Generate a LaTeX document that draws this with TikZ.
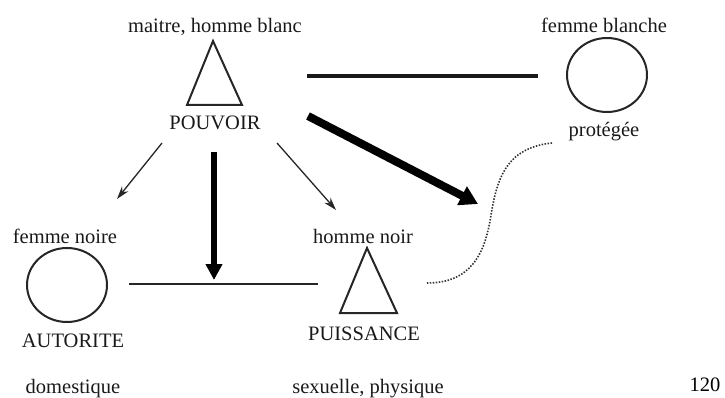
\documentclass[tikz,border=0pt]{standalone}
\usepackage{fontspec}
\setmainfont{Liberation Serif}
\usetikzlibrary{arrows.meta}
\begin{document}
\begin{tikzpicture}[x=1pt,y=-1pt,
  lbl/.style={anchor=base,inner sep=0pt,font=\fontsize{20.5}{24}\selectfont,text=black!90},
  shapeline/.style={draw=black!85,line width=2pt,line join=miter},
  thinarrow/.style={draw=black!85,line width=1.3pt,-{Stealth[length=13pt,width=8pt]}},
  bigarrow/.style={draw=black,line width=8pt,-{Triangle[length=18pt,width=20pt]}},
  vertarrow/.style={draw=black,line width=6pt,-{Triangle[length=16pt,width=16pt]}},
  dotline/.style={draw=black!80,line width=1.6pt,dash pattern=on 1.5pt off 1.5pt}]
\useasboundingbox (0,0) rectangle (725,398);
% labels
\node[lbl] (mh) at (215,33) {maitre, homme blanc};
\node[lbl] (pouv) at (215,130) {POUVOIR};
\node[lbl] (fb) at (604,33) {femme blanche};
\node[lbl] (prot) at (604,137) {protégée};
\node[lbl] (fn) at (65,243) {femme noire};
\node[lbl] (aut) at (73,347) {AUTORITE};
\node[lbl] (dom) at (73,393) {domestique};
\node[lbl] (hn) at (363,243) {homme noir};
\node[lbl] (puis) at (364,340) {PUISSANCE};
\node[lbl] (sex) at (368,393) {sexuelle, physique};
\node[lbl,text=black] (num) at (705,391) {120};
% shapes
\draw[shapeline] (213,41) -- (242,105) -- (187,105) -- cycle;
\draw[shapeline] (367,248) -- (397,313) -- (340,313) -- cycle;
\draw[shapeline] (607,75) ellipse [x radius=40, y radius=37];
\draw[shapeline] (67,285) ellipse [x radius=40, y radius=37];
% connector end points
\coordinate (t1) at (307,76);
\coordinate (t2) at (538,76);
\coordinate (d1) at (308,116);
\coordinate (d2) at (478,204);
\coordinate (l1) at (162,143);
\coordinate (l2) at (117,199);
\coordinate (r1) at (277,143);
\coordinate (r2) at (336,210);
\coordinate (v1) at (214,152);
\coordinate (v2) at (214,280);
\coordinate (b1) at (129,284);
\coordinate (b2) at (318,284);
\coordinate (c1) at (552,143);
\coordinate (c2) at (427,283);
% connectors
\draw[draw=black!90,line width=4pt] (t1) -- (t2);
\draw[draw=black!85,line width=2.5pt] (b1) -- (b2);
\draw[thinarrow] (l1) -- (l2);
\draw[thinarrow] (r1) -- (r2);
\draw[bigarrow] (d1) -- (d2);
\draw[vertarrow] (v1) -- (v2);
\draw[dotline] (c1) .. controls (505,148) and (497,180) .. (491,215)
  .. controls (485,255) and (470,283) .. (c2);
\end{tikzpicture}
\end{document}
